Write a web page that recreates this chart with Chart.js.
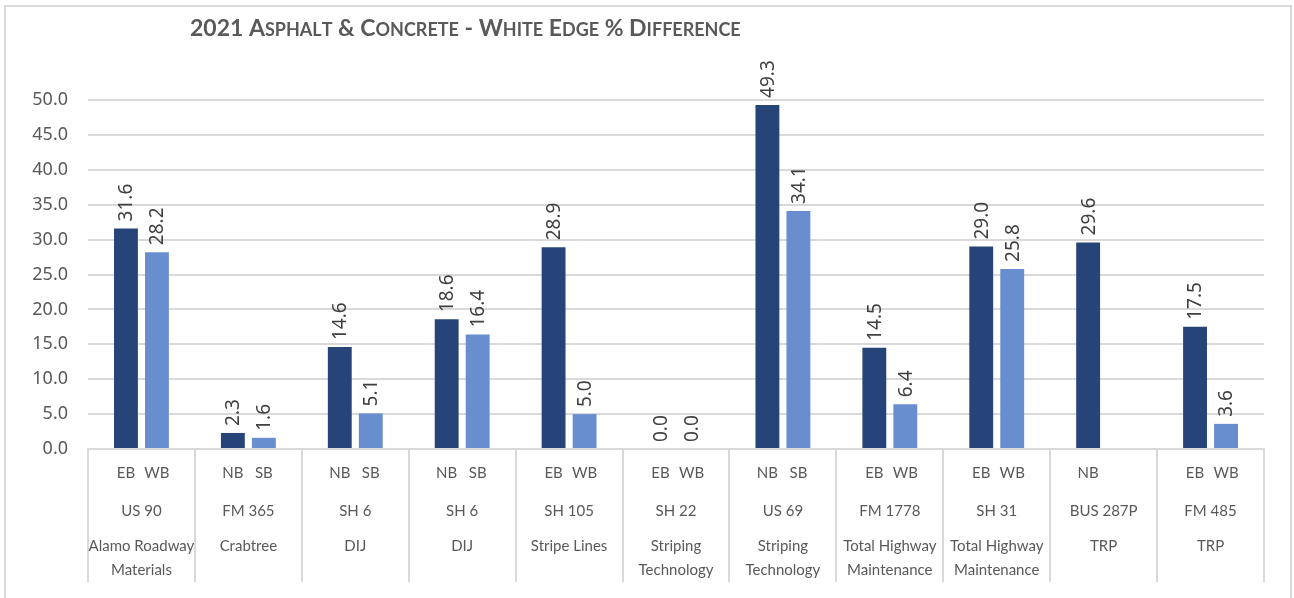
<!DOCTYPE html>
<html>
<head>
<meta charset="utf-8">
<style>
  html, body { margin: 0; padding: 0; background: #fff; }
  #wrap { width: 1294px; height: 598px; position: relative; }
</style>
<script src="https://cdn.jsdelivr.net/npm/chart.js@4.4.1/dist/chart.umd.min.js"></script>
</head>
<body>
<div id="wrap"><canvas id="chart" width="1294" height="598"></canvas></div>
<script>
// Data
const roads = ["US 90", "FM 365", "SH 6", "SH 6", "SH 105", "SH 22", "US 69", "FM 1778", "SH 31", "BUS 287P", "FM 485"];
const directions = [["EB","WB"],["NB","SB"],["NB","SB"],["NB","SB"],["EB","WB"],["EB","WB"],["NB","SB"],["EB","WB"],["EB","WB"],["NB"],["EB","WB"]];
const contractors = [["Alamo Roadway","Materials"],["Crabtree"],["DIJ"],["DIJ"],["Stripe Lines"],["Striping","Technology"],["Striping","Technology"],["Total Highway","Maintenance"],["Total Highway","Maintenance"],["TRP"],["TRP"]];
const firstDir  = [31.6, 2.3, 14.6, 18.6, 28.9, 0.0, 49.3, 14.5, 29.0, 29.6, 17.5];
const secondDir = [28.2, 1.6, 5.1, 16.4, 5.0, 0.0, 34.1, 6.4, 25.8, null, 3.6];
const yTicks = [0, 5, 10, 15, 20, 25, 30, 35, 40, 45, 50];

const TITLE = "2021 Asphalt & Concrete - White Edge % Difference";
const GRID = "#d9d9d9";
const TEXT = "#595959";
const CAT_FONT = "Lato, 'Liberation Sans', sans-serif";
const NUM_FONT = "'Noto Sans', 'DejaVu Sans', sans-serif";

// outer frame + small caps title
const framePlugin = {
  id: "frame",
  beforeDraw(chart) {
    const ctx = chart.ctx;
    ctx.save();
    ctx.strokeStyle = GRID;
    ctx.lineWidth = 2;
    ctx.strokeRect(5, 6, 1286, 640);
    ctx.restore();
  },
  afterDraw(chart) {
    const ctx = chart.ctx;
    ctx.save();
    ctx.fillStyle = TEXT;
    ctx.textBaseline = "alphabetic";
    let x = 190;
    const big = "bold 23px " + CAT_FONT, small = "bold 18px " + CAT_FONT;
    for (const ch of TITLE) {
      const isLower = ch !== ch.toUpperCase();
      ctx.font = isLower ? small : big;
      const c = ch.toUpperCase();
      ctx.fillText(c, x, 36);
      x += ctx.measureText(c).width;
    }
    ctx.restore();
  }
};

// multi-level category labels + rotated value labels
const labelPlugin = {
  id: "labels",
  afterDatasetsDraw(chart) {
    const ctx = chart.ctx;
    const xs = chart.scales.x;
    const bottom = chart.chartArea.bottom;
    const m0 = chart.getDatasetMeta(0), m1 = chart.getDatasetMeta(1);
    ctx.save();
    ctx.fillStyle = TEXT;
    ctx.textAlign = "center";
    ctx.textBaseline = "middle";
    ctx.font = "15px " + CAT_FONT;
    roads.forEach((r, i) => {
      const cx = xs.getPixelForValue(i);
      const dirs = directions[i];
      ctx.fillText(dirs[0], m0.data[i].x, bottom + 24);
      if (dirs[1]) ctx.fillText(dirs[1], m1.data[i].x, bottom + 24);
      ctx.fillText(r, cx, bottom + 62);
      contractors[i].forEach((line, k) => ctx.fillText(line, cx, bottom + 97 + k * 24));
    });

    // value labels
    ctx.fillStyle = "#404040";
    ctx.font = "19px " + NUM_FONT;
    ctx.textAlign = "left";
    ctx.textBaseline = "middle";
    [m0, m1].forEach((meta, d) => {
      const vals = chart.data.datasets[d].data;
      meta.data.forEach((bar, i) => {
        if (vals[i] === null) return;
        ctx.save();
        ctx.translate(bar.x + 1, bar.y - 7);
        ctx.rotate(-Math.PI / 2);
        ctx.fillText(vals[i].toFixed(1), 0, 0);
        ctx.restore();
      });
    });
    ctx.restore();
  }
};

new Chart(document.getElementById("chart"), {
  type: "bar",
  data: {
    labels: roads,
    datasets: [
      { label: "First direction", data: firstDir, backgroundColor: "#264478", categoryPercentage: 0.58, barPercentage: 0.77 },
      { label: "Second direction", data: secondDir, backgroundColor: "#698ed0", categoryPercentage: 0.58, barPercentage: 0.77 }
    ]
  },
  options: {
    responsive: false,
    animation: false,
    layout: { padding: { left: 0, top: 100, right: 30, bottom: 16 } },
    plugins: { legend: { display: false }, tooltip: { enabled: false }, title: { display: false } },
    scales: {
      x: {
        offset: true,
        grid: { offset: true, drawOnChartArea: false, drawTicks: true, tickLength: 133, color: GRID, lineWidth: 2 },
        border: { color: GRID, width: 2 },
        ticks: { display: false },
        afterFit(s) { s.height = 133; }
      },
      y: {
        min: 0,
        max: 50,
        afterBuildTicks(s) { s.ticks = yTicks.map(v => ({ value: v })); },
        grid: { color: GRID, lineWidth: 2, drawTicks: false },
        border: { display: false },
        ticks: {
          color: TEXT,
          padding: 20,
          font: { family: NUM_FONT, size: 18 },
          callback: v => Number(v).toFixed(1)
        },
        afterFit(s) { s.width = 88; }
      }
    }
  },
  plugins: [framePlugin, labelPlugin]
});
</script>
</body>
</html>
